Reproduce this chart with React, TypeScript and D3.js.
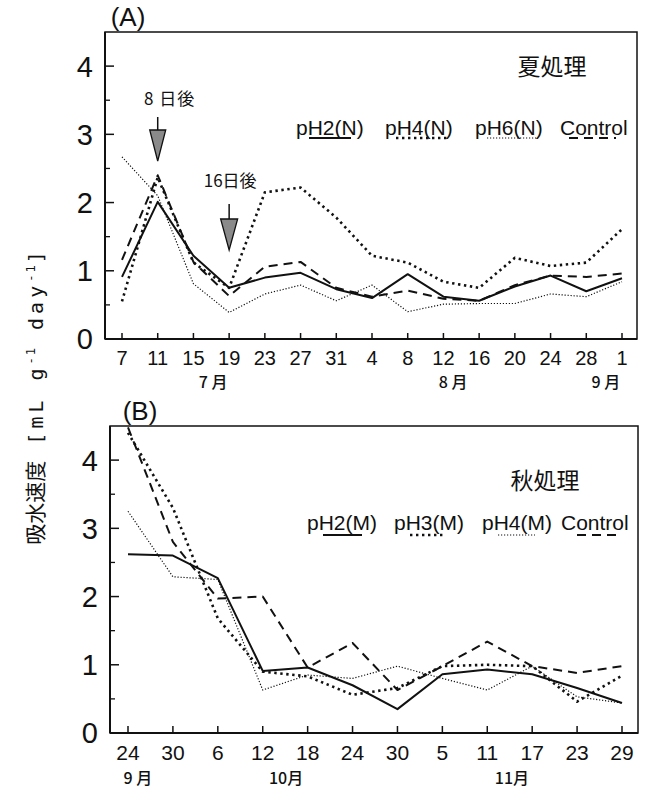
import React from "react";
import * as d3 from "d3";

// ---------- data ----------
const datesA = ["7", "11", "15", "19", "23", "27", "31", "4", "8", "12", "16", "20", "24", "28", "1"];
const pH2N = [0.91, 2.01, 1.22, 0.75, 0.9, 0.97, 0.73, 0.6, 0.95, 0.62, 0.56, 0.77, 0.93, 0.7, 0.89];
const pH4N = [0.55, 2.37, 1.12, 0.75, 2.15, 2.22, 1.78, 1.22, 1.12, 0.84, 0.75, 1.19, 1.07, 1.12, 1.61];
const pH6N = [2.67, 2.1, 0.81, 0.39, 0.66, 0.79, 0.56, 0.79, 0.4, 0.51, 0.52, 0.52, 0.66, 0.62, 0.84];
const controlA = [1.16, 2.4, 1.13, 0.63, 1.06, 1.13, 0.75, 0.62, 0.71, 0.59, 0.56, 0.79, 0.93, 0.91, 0.96];
const monthsA = [
  { label: "7 月", at: 2.55 },
  { label: "8 月", at: 9.27 },
  { label: "9 月", at: 13.55 },
];
const legendA = ["pH2(N)", "pH4(N)", "pH6(N)", "Control"];

const datesB = ["24", "30", "6", "12", "18", "24", "30", "5", "11", "17", "23", "29"];
const pH2M = [2.62, 2.6, 2.27, 0.91, 0.96, 0.7, 0.35, 0.86, 0.93, 0.86, 0.66, 0.44];
const pH3M = [4.4, 3.3, 1.68, 0.9, 0.83, 0.56, 0.66, 0.98, 1.0, 0.98, 0.46, 0.84];
const pH4M = [3.25, 2.29, 2.25, 0.63, 0.85, 0.8, 0.98, 0.8, 0.63, 0.98, 0.53, 0.44];
const controlB = [4.48, 2.8, 1.97, 2.0, 0.96, 1.32, 0.63, 0.98, 1.34, 0.98, 0.88, 0.98];
const monthsB = [
  { label: "9 月", at: 0.22 },
  { label: "10月", at: 3.52 },
  { label: "11月", at: 8.55 },
];
const legendB = ["pH2(M)", "pH3(M)", "pH4(M)", "Control"];

const yTicks = [0, 1, 2, 3, 4];
const yMinor = [0.5, 1.5, 2.5, 3.5];

// ---------- styles ----------
const styles = {
  solid: { width: 2, dash: "" },
  thickDot: { width: 2.6, dash: "2.4,3.6" },
  fineDot: { width: 1.2, dash: "1.2,1.8" },
  dashed: { width: 2, dash: "9,6" },
};

const NUM = "'Liberation Sans', Arial, sans-serif";
const CJK = "'Noto Sans CJK JP', 'Noto Sans CJK SC', sans-serif";
const MONO = "'DejaVu Sans Mono', monospace";

type PanelProps = {
  left: number; right: number; top: number; bottom: number;
  x0: number; x1: number;
  dates: string[];
  series: { values: number[]; style: keyof typeof styles }[];
  months: { label: string; at: number }[];
  tickFont: number; tickY: number; monthY: number;
  tag: string; tagX: number; tagY: number;
  title: string; titleX: number; titleY: number;
  legend: string[]; legendX: number[]; legendY: number;
  legendLine: [number, number][]; legendLineY: number;
  xTickLen: number;
  children?: React.ReactNode;
};

function Panel(p: PanelProps) {
  const idx = p.dates.map((_, i) => i);
  const x = d3.scaleLinear().domain([0, p.dates.length - 1]).range([p.x0, p.x1]);
  const y = d3.scaleLinear().domain([0, 4.5]).range([p.bottom, p.top]);
  const line = d3
    .line<number>()
    .x((_, i) => x(i))
    .y((d) => y(d));
  return (
    <g>
      <rect x={p.left} y={p.top} width={p.right - p.left} height={p.bottom - p.top} fill="none" stroke="#111" strokeWidth={1.5} />
      <line x1={p.left} x2={p.left} y1={p.top} y2={p.bottom} stroke="#111" strokeWidth={2} />
      <line x1={p.left} x2={p.right} y1={p.bottom} y2={p.bottom} stroke="#111" strokeWidth={2} />
      {yTicks.map((t) => (
        <g key={"yt" + t}>
          {t > 0 && <line x1={p.left} x2={p.left + 9} y1={y(t)} y2={y(t)} stroke="#111" strokeWidth={1.5} />}
          <text x={p.left - 12} y={y(t)} dy="0.36em" textAnchor="end" fontFamily={NUM} fontSize={29} fill="#111">
            {t}
          </text>
        </g>
      ))}
      {yMinor.map((t) => (
        <line key={"ym" + t} x1={p.left} x2={p.left + 5} y1={y(t)} y2={y(t)} stroke="#111" strokeWidth={1.3} />
      ))}
      {idx.map((i) => (
        <g key={"xt" + i}>
          <line x1={x(i)} x2={x(i)} y1={p.bottom} y2={p.bottom - p.xTickLen} stroke="#111" strokeWidth={1.5} />
          <text x={x(i)} y={p.tickY} textAnchor="middle" fontFamily={NUM} fontSize={p.tickFont} fill="#111">
            {p.dates[i]}
          </text>
        </g>
      ))}
      {p.months.map((m) => (
        <text key={m.label} x={x(m.at)} y={p.monthY} textAnchor="middle" fontFamily={CJK} fontSize={16} fontWeight={500} fill="#111">
          {m.label}
        </text>
      ))}
      {p.series.map((s, k) => (
        <path
          key={"s" + k}
          d={line(s.values) || ""}
          fill="none"
          stroke="#111"
          strokeWidth={styles[s.style].width}
          strokeDasharray={styles[s.style].dash || undefined}
          strokeLinejoin="round"
        />
      ))}
      <text x={p.tagX} y={p.tagY} textAnchor="middle" fontFamily={NUM} fontSize={26} fill="#111">
        {p.tag}
      </text>
      <text x={p.titleX} y={p.titleY} textAnchor="middle" fontFamily={CJK} fontSize={23} fill="#111">
        {p.title}
      </text>
      {p.legend.map((l, k) => (
        <g key={"lg" + k}>
          <text x={p.legendX[k]} y={p.legendY} fontFamily={NUM} fontSize={21} fill="#111">
            {l}
          </text>
          <line
            x1={p.legendLine[k][0]}
            x2={p.legendLine[k][1]}
            y1={p.legendLineY}
            y2={p.legendLineY}
            stroke="#111"
            strokeWidth={styles[p.series[k].style].width}
            strokeDasharray={styles[p.series[k].style].dash || undefined}
          />
        </g>
      ))}
      {p.children}
    </g>
  );
}

function Arrow({ cx, y0, yTri, yTip, hw }: { cx: number; y0: number; yTri: number; yTip: number; hw: number }) {
  return (
    <g>
      <line x1={cx} x2={cx} y1={y0} y2={yTri} stroke="#111" strokeWidth={1.5} />
      <path d={`M${cx - hw},${yTri} L${cx + hw},${yTri} L${cx},${yTip} Z`} fill="#8a8a8a" stroke="#111" strokeWidth={1.3} />
    </g>
  );
}

export default function App() {
  const xA = d3.scaleLinear().domain([0, datesA.length - 1]).range([122, 622]);
  return (
    <svg width={646} height={790} style={{ position: "absolute", left: 0, top: 0, background: "#fff" }}>
      <rect width={646} height={790} fill="#fff" />
      <Panel
        left={105} right={637} top={32} bottom={339}
        x0={122} x1={622}
        dates={datesA}
        series={[
          { values: pH2N, style: "solid" },
          { values: pH4N, style: "thickDot" },
          { values: pH6N, style: "fineDot" },
          { values: controlA, style: "dashed" },
        ]}
        months={monthsA}
        tickFont={20} tickY={365} monthY={388}
        tag="(A)" tagX={128} tagY={26}
        title="夏処理" titleX={552} titleY={75}
        legend={legendA}
        legendX={[296, 385, 475, 560]}
        legendY={135}
        legendLine={[[309, 351], [396, 450], [487, 537], [569, 616]]}
        legendLineY={138}
        xTickLen={6}
      >
        <Arrow cx={xA(1)} y0={117} yTri={130} yTip={161} hw={8} />
        <Arrow cx={xA(3)} y0={204} yTri={219} yTip={250} hw={8.5} />
        <text x={xA(1) + 12} y={105} textAnchor="middle" fontFamily={CJK} fontSize={17} fill="#111" letterSpacing={1}>
          8 日後
        </text>
        <text x={xA(3) + 1} y={187} textAnchor="middle" fontFamily={CJK} fontSize={17} fill="#111">
          16日後
        </text>
      </Panel>
      <Panel
        left={110} right={638} top={426} bottom={733}
        x0={128} x1={622}
        dates={datesB}
        series={[
          { values: pH2M, style: "solid" },
          { values: pH3M, style: "thickDot" },
          { values: pH4M, style: "fineDot" },
          { values: controlB, style: "dashed" },
        ]}
        months={monthsB}
        tickFont={21} tickY={760} monthY={784}
        tag="(B)" tagX={140} tagY={420}
        title="秋処理" titleX={545} titleY={489}
        legend={legendB}
        legendX={[307, 394, 482, 561]}
        legendY={530}
        legendLine={[[323, 362], [410, 446], [498, 535], [577, 618]]}
        legendLineY={535}
        xTickLen={7}
      />
      <text transform="translate(43,398) rotate(-90)" textAnchor="middle" fontFamily={CJK} fontSize={21} fill="#111">
        吸水速度
        <tspan fontFamily={MONO} fontSize={20} letterSpacing={4}>{" [mL  g"}</tspan>
        <tspan fontFamily={MONO} fontSize={12} dy={-8} letterSpacing={2}>-1</tspan>
        <tspan fontFamily={MONO} fontSize={20} dy={8} letterSpacing={4}>{"  day"}</tspan>
        <tspan fontFamily={MONO} fontSize={12} dy={-8} letterSpacing={2}>-1</tspan>
        <tspan fontFamily={MONO} fontSize={20} dy={8}>{"]"}</tspan>
      </text>
    </svg>
  );
}
